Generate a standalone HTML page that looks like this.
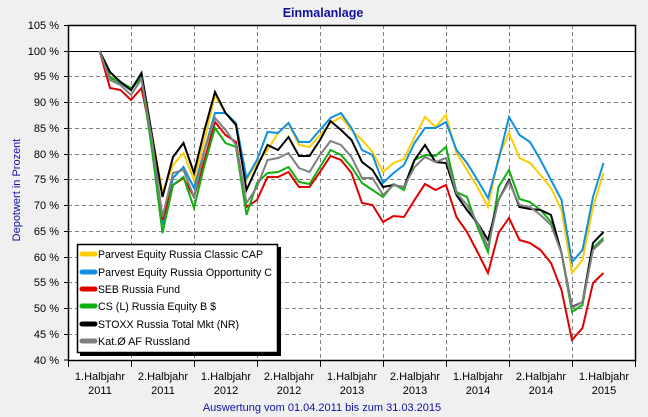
<!DOCTYPE html>
<html><head><meta charset="utf-8"><style>
html,body{margin:0;padding:0;background:#f0f0f0;}
svg{display:block;font-family:"Liberation Sans",Arial,sans-serif;}
</style></head><body>
<svg width="648" height="417" viewBox="0 0 648 417" xmlns="http://www.w3.org/2000/svg">
<rect x="0" y="0" width="648" height="417" fill="#f0f0f0"/>
<text x="323" y="17" text-anchor="middle" font-size="12.5" font-weight="bold" fill="#1010a0">Einmalanlage</text>
<rect x="68" y="25" width="567" height="335" fill="#fff"/>
<g stroke="#808080" stroke-width="1" stroke-dasharray="4,3" fill="none">
<line x1="68" y1="76.5" x2="635" y2="76.5"/><line x1="68" y1="102.5" x2="635" y2="102.5"/>
<line x1="68" y1="128.5" x2="635" y2="128.5"/><line x1="68" y1="154.5" x2="635" y2="154.5"/>
<line x1="68" y1="179.5" x2="635" y2="179.5"/><line x1="68" y1="205.5" x2="635" y2="205.5"/>
<line x1="68" y1="231.5" x2="635" y2="231.5"/><line x1="68" y1="257.5" x2="635" y2="257.5"/>
<line x1="68" y1="282.5" x2="635" y2="282.5"/><line x1="68" y1="308.5" x2="635" y2="308.5"/>
<line x1="68" y1="334.5" x2="635" y2="334.5"/>
<line x1="131.5" y1="25" x2="131.5" y2="360"/><line x1="194.5" y1="25" x2="194.5" y2="360"/>
<line x1="257.5" y1="25" x2="257.5" y2="360"/><line x1="320.5" y1="25" x2="320.5" y2="360"/>
<line x1="383.5" y1="25" x2="383.5" y2="360"/><line x1="446.5" y1="25" x2="446.5" y2="360"/>
<line x1="509.5" y1="25" x2="509.5" y2="360"/><line x1="572.5" y1="25" x2="572.5" y2="360"/>
</g>
<line x1="68" y1="51.5" x2="635" y2="51.5" stroke="#000" stroke-width="1"/>
<g fill="none" stroke-width="2" stroke-linejoin="miter">
<polyline stroke="#ffcc00" points="99.5,51 110,76 120.5,82 131,89 141.5,76 152,135 162.5,193 173,165 183.5,153 194,180 204.5,140 215,95 225.5,113 236,125 246.5,180 257,163 267.5,150 278,133 288.5,123 299,145 309.5,147 320,135 330.5,123 341,117 351.5,130 362,140 372.5,152 383,172 393.5,163 404,159 414.5,137 425,117 435.5,127 446,115 456.5,153 467,170 477.5,187 488,207 498.5,157 509,133 519.5,158 530,163 540.5,175 551,188 561.5,210 572,273 582.5,260 593,207 603.5,173"/>
<polyline stroke="#1090e0" points="99.5,51 110,77 120.5,83 131,90 141.5,76 152,140 162.5,225 173,178 183.5,167 194,188 204.5,150 215,113 225.5,113 236,123 246.5,178 257,160 267.5,132 278,133 288.5,123 299,142 309.5,142 320,130 330.5,118 341,113 351.5,128 362,150 372.5,155 383,183 393.5,173 404,165 414.5,143 425,128 435.5,128 446,122 456.5,150 467,163 477.5,180 488,198 498.5,160 509,117 519.5,135 530,142 540.5,160 551,180 561.5,200 572,262 582.5,250 593,197 603.5,163"/>
<polyline stroke="#e00000" points="99.5,51 110,88 120.5,90 131,100 141.5,88 152,140 162.5,220 173,185 183.5,178 194,197 204.5,160 215,122 225.5,135 236,142 246.5,207 257,200 267.5,177 278,177 288.5,172 299,187 309.5,187 320,172 330.5,156 341,160 351.5,173 362,203 372.5,205 383,222 393.5,216 404,217 414.5,200 425,184 435.5,190 446,185 456.5,217 467,232 477.5,252 488,273 498.5,233 509,218 519.5,240 530,243 540.5,250 551,263 561.5,290 572,340 582.5,328 593,283 603.5,273"/>
<polyline stroke="#10b010" points="99.5,51 110,78 120.5,82 131,88 141.5,78 152,150 162.5,233 173,185 183.5,177 194,208 204.5,165 215,128 225.5,143 236,147 246.5,215 257,183 267.5,173 278,172 288.5,167 299,182 309.5,184 320,167 330.5,150 341,155 351.5,167 362,183 372.5,190 383,197 393.5,184 404,190 414.5,160 425,155 435.5,156 446,147 456.5,192 467,197 477.5,227 488,252 498.5,187 509,170 519.5,199 530,202 540.5,210 551,222 561.5,253 572,312 582.5,305 593,248 603.5,238"/>
<polyline stroke="#000000" points="99.5,51 110,72 120.5,82 131,90 141.5,73 152,135 162.5,197 173,157 183.5,143 194,173 204.5,130 215,92 225.5,113 236,125 246.5,190 257,167 267.5,145 278,150 288.5,137 299,156 309.5,156 320,140 330.5,121 341,130 351.5,140 362,162 372.5,170 383,187 393.5,185 404,187 414.5,160 425,145 435.5,162 446,163 456.5,195 467,210 477.5,223 488,240 498.5,200 509,180 519.5,207 530,209 540.5,210 551,215 561.5,253 572,307 582.5,302 593,243 603.5,232"/>
<polyline stroke="#808080" points="99.5,51 110,80 120.5,85 131,95 141.5,79 152,140 162.5,217 173,173 183.5,170 194,197 204.5,150 215,118 225.5,130 236,145 246.5,203 257,187 267.5,160 278,158 288.5,153 299,168 309.5,172 320,155 330.5,141 341,145 351.5,157 362,178 372.5,178 383,195 393.5,185 404,187 414.5,167 425,157 435.5,162 446,158 456.5,193 467,205 477.5,223 488,247 498.5,200 509,182 519.5,205 530,207 540.5,215 551,225 561.5,253 572,308 582.5,302 593,250 603.5,240"/>
</g>
<rect x="68.5" y="25.5" width="567" height="335" fill="none" stroke="#000" stroke-width="1.5"/>
<g stroke="#000" stroke-width="1">
<line x1="68.5" y1="360" x2="68.5" y2="367"/><line x1="131.5" y1="360" x2="131.5" y2="367"/>
<line x1="194.5" y1="360" x2="194.5" y2="367"/><line x1="257.5" y1="360" x2="257.5" y2="367"/>
<line x1="320.5" y1="360" x2="320.5" y2="367"/><line x1="383.5" y1="360" x2="383.5" y2="367"/>
<line x1="446.5" y1="360" x2="446.5" y2="367"/><line x1="509.5" y1="360" x2="509.5" y2="367"/>
<line x1="572.5" y1="360" x2="572.5" y2="367"/><line x1="635.5" y1="360" x2="635.5" y2="367"/>
<line x1="64" y1="25.5" x2="68" y2="25.5"/><line x1="64" y1="51.5" x2="68" y2="51.5"/>
<line x1="64" y1="76.5" x2="68" y2="76.5"/><line x1="64" y1="102.5" x2="68" y2="102.5"/>
<line x1="64" y1="128.5" x2="68" y2="128.5"/><line x1="64" y1="154.5" x2="68" y2="154.5"/>
<line x1="64" y1="179.5" x2="68" y2="179.5"/><line x1="64" y1="205.5" x2="68" y2="205.5"/>
<line x1="64" y1="231.5" x2="68" y2="231.5"/><line x1="64" y1="257.5" x2="68" y2="257.5"/>
<line x1="64" y1="282.5" x2="68" y2="282.5"/><line x1="64" y1="308.5" x2="68" y2="308.5"/>
<line x1="64" y1="334.5" x2="68" y2="334.5"/><line x1="64" y1="360" x2="68" y2="360"/>
</g>
<g font-size="11" fill="#000" text-anchor="end">
<text x="59" y="29">105 %</text><text x="59" y="55">100 %</text><text x="59" y="80">95 %</text>
<text x="59" y="106">90 %</text><text x="59" y="132">85 %</text><text x="59" y="158">80 %</text>
<text x="59" y="183">75 %</text><text x="59" y="209">70 %</text><text x="59" y="235">65 %</text>
<text x="59" y="261">60 %</text><text x="59" y="286">55 %</text><text x="59" y="312">50 %</text>
<text x="59" y="338">45 %</text><text x="59" y="364">40 %</text>
</g>
<g font-size="11" fill="#000" text-anchor="middle">
<text x="100" y="380">1.Halbjahr</text><text x="100" y="394">2011</text>
<text x="163" y="380">2.Halbjahr</text><text x="163" y="394">2011</text>
<text x="226" y="380">1.Halbjahr</text><text x="226" y="394">2012</text>
<text x="289" y="380">2.Halbjahr</text><text x="289" y="394">2012</text>
<text x="352" y="380">1.Halbjahr</text><text x="352" y="394">2013</text>
<text x="415" y="380">2.Halbjahr</text><text x="415" y="394">2013</text>
<text x="478" y="380">1.Halbjahr</text><text x="478" y="394">2014</text>
<text x="541" y="380">2.Halbjahr</text><text x="541" y="394">2014</text>
<text x="604" y="380">1.Halbjahr</text><text x="604" y="394">2015</text>
</g>
<text x="322" y="411" text-anchor="middle" font-size="11" fill="#1010a0">Auswertung vom 01.04.2011 bis zum 31.03.2015</text>
<text transform="translate(20,190) rotate(-90)" text-anchor="middle" font-size="11" fill="#1010a0">Depotwert in Prozent</text>
<rect x="80" y="247" width="201" height="109" fill="#000"/>
<rect x="77.5" y="244.5" width="200" height="108" fill="#fff" stroke="#000" stroke-width="1.5"/>
<g stroke-width="5" stroke-linecap="round">
<line x1="82" y1="254" x2="95" y2="254" stroke="#ffcc00"/>
<line x1="82" y1="272" x2="95" y2="272" stroke="#1090e0"/>
<line x1="82" y1="289" x2="95" y2="289" stroke="#e00000"/>
<line x1="82" y1="306" x2="95" y2="306" stroke="#10b010"/>
<line x1="82" y1="324" x2="95" y2="324" stroke="#000000"/>
<line x1="82" y1="341" x2="95" y2="341" stroke="#808080"/>
</g>
<g font-size="11" fill="#000">
<text x="98" y="258" textLength="165" lengthAdjust="spacingAndGlyphs">Parvest Equity Russia Classic CAP</text>
<text x="98" y="276" textLength="174" lengthAdjust="spacingAndGlyphs">Parvest Equity Russia Opportunity C</text>
<text x="98" y="293" textLength="82" lengthAdjust="spacingAndGlyphs">SEB Russia Fund</text>
<text x="98" y="310" textLength="118" lengthAdjust="spacingAndGlyphs">CS (L) Russia Equity B $</text>
<text x="98" y="328" textLength="141" lengthAdjust="spacingAndGlyphs">STOXX Russia Total Mkt (NR)</text>
<text x="98" y="345" textLength="92" lengthAdjust="spacingAndGlyphs">Kat.Ø AF Russland</text>
</g>
</svg>
</body></html>
